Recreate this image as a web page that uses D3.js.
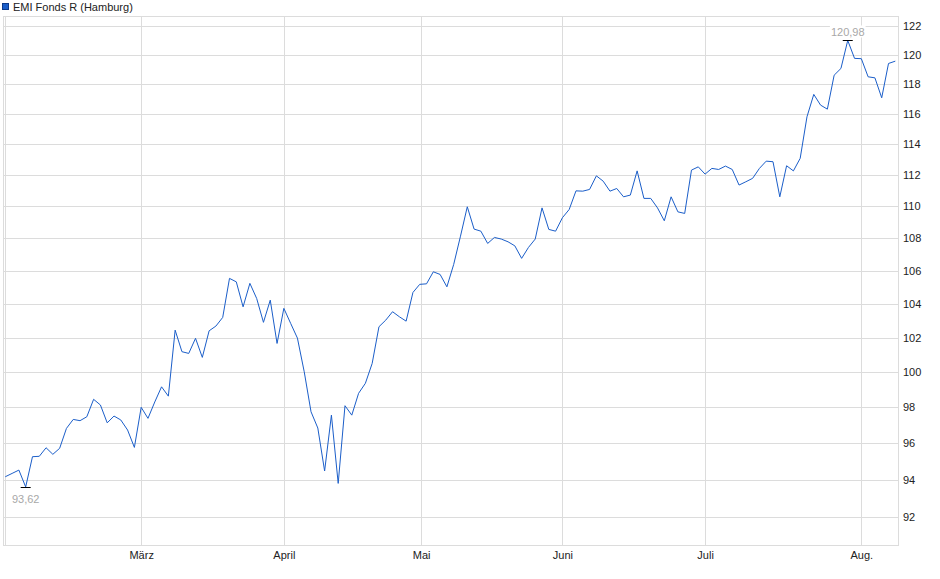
<!DOCTYPE html>
<html>
<head>
<meta charset="utf-8">
<script src="https://cdn.jsdelivr.net/npm/d3@7"></script>
<style>
  body { margin: 0; background: #fff; }
  svg { font-family: "Liberation Sans", Arial, sans-serif; }
</style>
</head>
<body>
<svg width="940" height="579"></svg>
<script>
"use strict";

// Kurse (Handelstage, Feb. bis Aug.)
const prices = [
  94.17, 94.35, 94.53, 93.62, 95.26, 95.28, 95.75, 95.39, 95.72, 96.82,
  97.32, 97.25, 97.47, 98.45, 98.13, 97.13, 97.51, 97.29, 96.73, 95.77,
  98.00, 97.38, 98.30, 99.16, 98.63, 102.44, 101.18, 101.08, 101.96, 100.85,
  102.40, 102.68, 103.19, 105.53, 105.32, 103.82, 105.23, 104.32, 102.90, 104.22,
  101.66, 103.73, 102.84, 101.97, 100.02, 97.75, 96.84, 94.48, 97.56, 93.81,
  98.09, 97.56, 98.79, 99.36, 100.50, 102.64, 103.03, 103.53, 103.23, 102.97,
  104.68, 105.17, 105.20, 105.93, 105.77, 105.02, 106.38, 108.12, 109.96, 108.56,
  108.43, 107.67, 108.04, 107.94, 107.77, 107.52, 106.75, 107.42, 107.94, 109.89,
  108.54, 108.43, 109.27, 109.79, 110.97, 110.95, 111.06, 111.93, 111.59, 110.95,
  111.12, 110.59, 110.70, 112.25, 110.49, 110.49, 109.89, 109.08, 110.59, 109.64,
  109.54, 112.30, 112.51, 112.04, 112.41, 112.34, 112.56, 112.34, 111.34, 111.55,
  111.77, 112.41, 112.88, 112.84, 110.59, 112.58, 112.25, 113.06, 115.79, 117.29,
  116.57, 116.30, 118.59, 119.05, 120.98, 119.74, 119.72, 118.48, 118.41, 117.06,
  119.39, 119.55
];

// Monatsanfang als Index in der Kursreihe
const monthLabels = ["", "März", "April", "Mai", "Juni", "Juli", "Aug."];
const monthIndex = [0, 20, 41, 61.2, 82, 103, 126];

const yTicks = [92, 94, 96, 98, 100, 102, 104, 106, 108, 110, 112, 114, 116, 118, 120, 122];

const seriesName = "EMI Fonds R (Hamburg)";

const plot = { left: 3, right: 898, top: 16, bottom: 545 };
const gridColor = "#dcdcdc";
const lineColor = "#1b5ec9";

const svg = d3.select("svg");

const xScale = d3.scaleLinear()
  .domain([0, prices.length - 1])
  .range([5.3, 895.3]);

// logarithmische Skala wie im Original
const yScale = d3.scaleLog()
  .domain([90.55, 122.69])
  .range([plot.bottom, plot.top]);

// horizontale Gitterlinien + Beschriftung rechts
const yAxis = d3.axisRight(yScale)
  .tickValues(yTicks)
  .tickFormat(d3.format("d"))
  .tickSize(-(plot.right - plot.left))
  .tickPadding(5);

svg.append("g")
  .attr("id", "yAxisG")
  .attr("transform", `translate(${plot.right}, 0)`)
  .call(yAxis)
  .call((g) => g.select(".domain").remove())
  .call((g) => g.selectAll("line").attr("stroke", gridColor).attr("shape-rendering", "crispEdges"))
  .call((g) => g.selectAll("text").attr("fill", "#222").style("font-size", "11px"));

// vertikale Gitterlinien an den Monatsanfängen
const xAxis = d3.axisBottom(xScale)
  .tickValues(monthIndex)
  .tickFormat((d, i) => monthLabels[i])
  .tickSize(-(plot.bottom - plot.top))
  .tickPadding(6);

svg.append("g")
  .attr("id", "xAxisG")
  .attr("transform", `translate(0, ${plot.bottom})`)
  .call(xAxis)
  .call((g) => g.select(".domain").remove())
  .call((g) => g.selectAll("line").attr("stroke", gridColor).attr("shape-rendering", "crispEdges"))
  .call((g) => g.selectAll("text").attr("fill", "#222").style("font-size", "11px"));

// Rahmen
svg.append("rect")
  .attr("x", plot.left + 0.5)
  .attr("y", plot.top + 0.5)
  .attr("width", plot.right - plot.left)
  .attr("height", plot.bottom - plot.top)
  .attr("fill", "none")
  .attr("stroke", gridColor);

// Kurslinie
const line = d3.line()
  .x((d, i) => xScale(i))
  .y((d) => yScale(d));

svg.append("path")
  .datum(prices)
  .attr("fill", "none")
  .attr("stroke", lineColor)
  .attr("stroke-width", 1)
  .attr("d", line);

// Hoch- und Tiefpunkt markieren
const maxI = d3.maxIndex(prices);
const minI = d3.minIndex(prices);
const fmt = (v) => v.toFixed(2).replace(".", ",");

function marker(i, above) {
  const x = xScale(i);
  const y = Math.round(yScale(prices[i])) + 0.5;
  const g = svg.append("g");
  const ty = above ? y - 5 : y + 15;
  const label = g.append("text")
    .attr("x", x)
    .attr("y", ty)
    .attr("text-anchor", "middle")
    .attr("fill", "#a8a8a8")
    .style("font-size", "11px")
    .text(fmt(prices[i]));
  const bb = label.node().getBBox();
  g.insert("rect", "text")
    .attr("x", bb.x - 1)
    .attr("y", bb.y)
    .attr("width", bb.width + 2)
    .attr("height", bb.height)
    .attr("fill", "#fff");
  g.append("line")
    .attr("x1", x - 5)
    .attr("x2", x + 5)
    .attr("y1", y)
    .attr("y2", y)
    .attr("stroke", "#000")
    .attr("stroke-width", 1);
}

marker(maxI, true);
marker(minI, false);

// Legende
svg.append("rect")
  .attr("x", 2.5)
  .attr("y", 3.5)
  .attr("width", 6)
  .attr("height", 6)
  .attr("fill", lineColor)
  .attr("stroke", "#0d3a8a");

svg.append("text")
  .attr("x", 13)
  .attr("y", 10.5)
  .attr("fill", "#222")
  .style("font-size", "11px")
  .text(seriesName);
</script>
</body>
</html>
